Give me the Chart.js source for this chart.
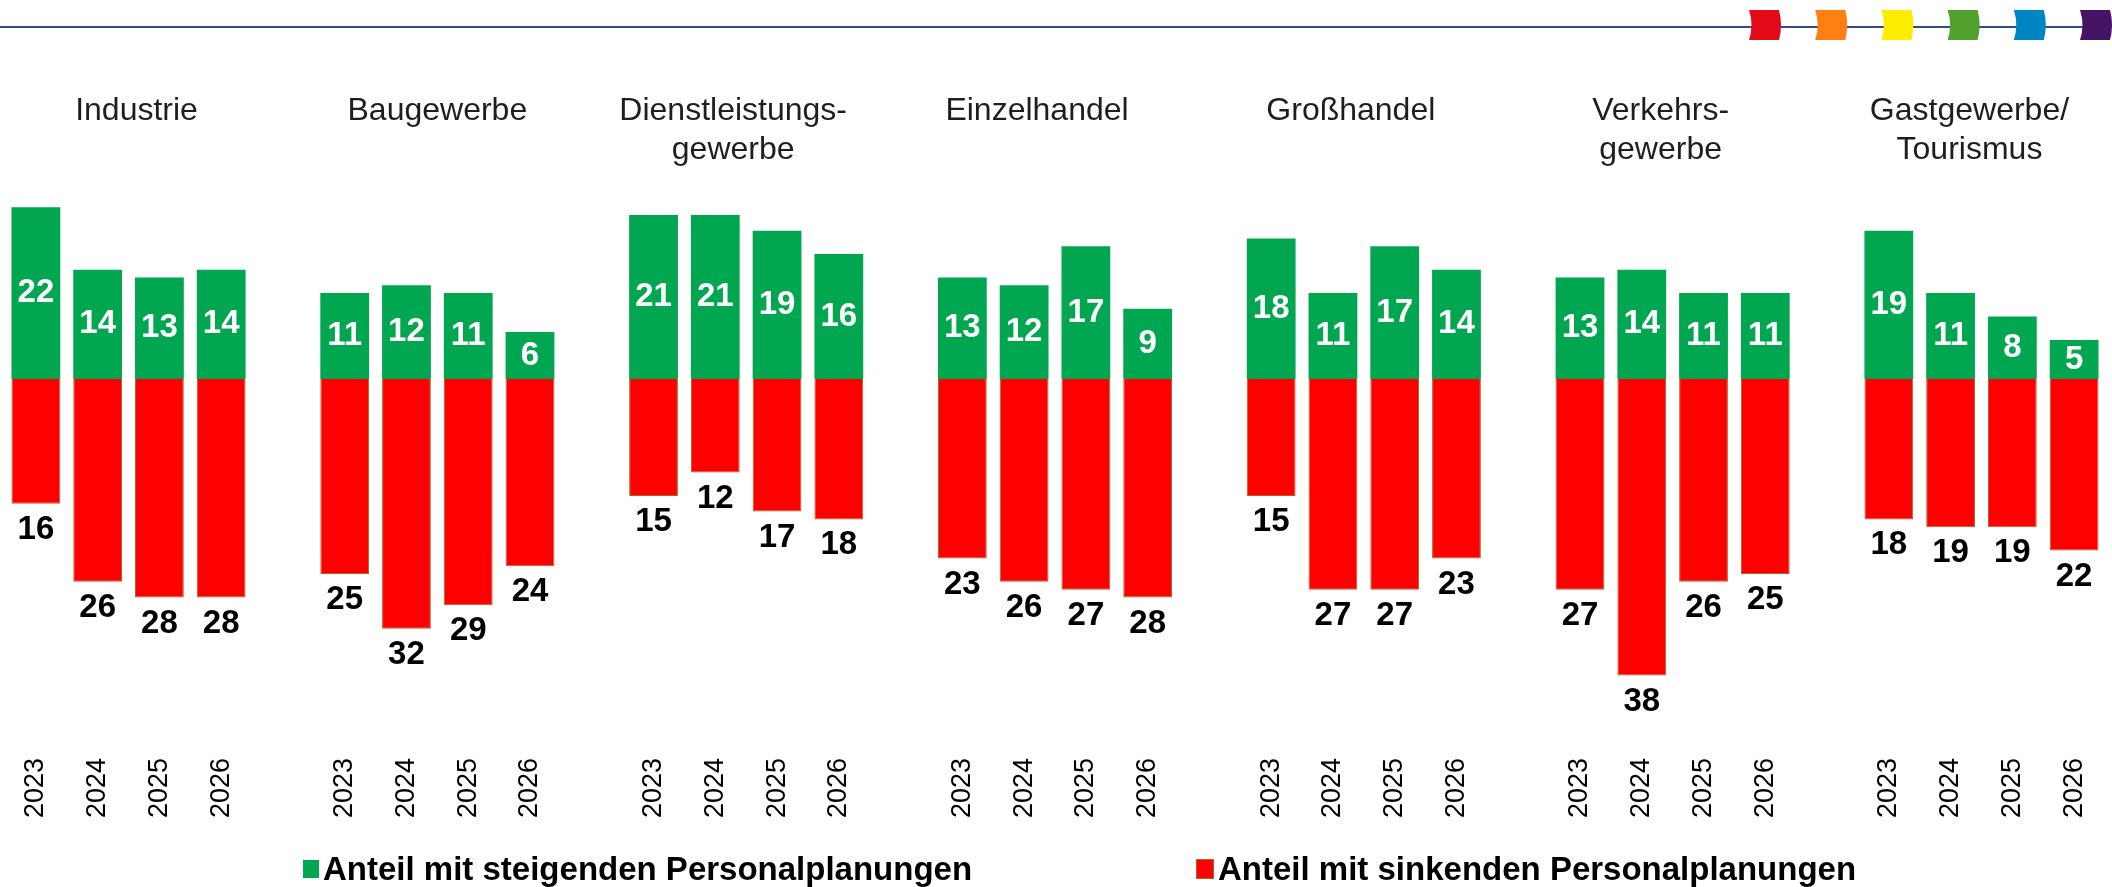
<!DOCTYPE html>
<html lang="de">
<head>
<meta charset="utf-8">
<title>Personalplanungen nach Branchen</title>
<script src="https://cdn.jsdelivr.net/npm/chart.js@4.4.1/dist/chart.umd.min.js"></script>
<style>
  html, body { margin: 0; padding: 0; background: #fff; }
  #wrap { position: relative; width: 2112px; height: 887px; overflow: hidden; }
  #chart { position: absolute; left: 0; top: 0; }
  .legend-item {
    position: absolute; top: 850px; height: 38px;
    display: flex; align-items: center;
    font: bold 33px "Liberation Sans", Arial, sans-serif; color: #000;
    white-space: nowrap;
  }
  .legend-item .box { width: 16px; height: 18px; margin-right: 4px; }
  .legend-item.rising { left: 303px; }
  .legend-item.falling { left: 1196px; }
</style>
</head>
<body>
<div id="wrap">
  <canvas id="chart" width="2112" height="887"></canvas>
</div>
<script>
// Branchen (mehrzeilige Titel als Arrays)
const sectors = [
    ['Industrie'],
    ['Baugewerbe'],
    ['Dienstleistungs-', 'gewerbe'],
    ['Einzelhandel'],
    ['Großhandel'],
    ['Verkehrs-', 'gewerbe'],
    ['Gastgewerbe/', 'Tourismus']
];
const years = ['2023', '2024', '2025', '2026'];

// Anteil mit steigenden Personalplanungen (%), je Branche 2023-2026
const rising = [
    [22, 14, 13, 14],
    [11, 12, 11, 6],
    [21, 21, 19, 16],
    [13, 12, 17, 9],
    [18, 11, 17, 14],
    [13, 14, 11, 11],
    [19, 11, 8, 5]
];

// Anteil mit sinkenden Personalplanungen (%), je Branche 2023-2026
const falling = [
    [16, 26, 28, 28],
    [25, 32, 29, 24],
    [15, 12, 17, 18],
    [23, 26, 27, 28],
    [15, 27, 27, 23],
    [27, 38, 26, 25],
    [18, 19, 19, 22]
];

const seriesNames = ['Anteil mit steigenden Personalplanungen', 'Anteil mit sinkenden Personalplanungen'];
const flagColors = ['#e30a17', '#ff7f11', '#ffed00', '#52a02e', '#0085c3', '#461464'];
// the titles in the original are not exactly centred over their bars
const titleShift = [8, 0, -13, -18, -13, -12, -12];

const FONT = '"Liberation Sans", Arial, sans-serif';

// flat category list, one empty spacer category between the sectors
const labels = [];
const risingData = [];
const fallingData = [];
const groupRanges = [];
sectors.forEach((name, g) => {
    if (g > 0) {
        labels.push('');
        risingData.push(null);
        fallingData.push(null);
    }
    const start = labels.length;
    years.forEach((year, i) => {
        labels.push(year);
        risingData.push(rising[g][i]);
        fallingData.push(-falling[g][i]);
    });
    groupRanges.push([start, labels.length - 1]);
});

// top rule with the little coloured flags, sector titles
const headerPlugin = {
    id: 'header',
    beforeDraw(chart) {
        const ctx = chart.ctx;
        ctx.save();
        ctx.strokeStyle = '#2f4b8e';
        ctx.lineWidth = 2;
        ctx.beginPath();
        ctx.moveTo(0, 27);
        ctx.lineTo(chart.width, 27);
        ctx.stroke();
        flagColors.forEach((c, i) => {
            const x = 1749 + i * 66.2;
            ctx.fillStyle = c;
            ctx.beginPath();
            ctx.moveTo(x, 10);
            ctx.lineTo(x + 30, 10);
            ctx.quadraticCurveTo(x + 34, 25, x + 30, 40);
            ctx.lineTo(x, 40);
            ctx.quadraticCurveTo(x + 5, 25, x, 10);
            ctx.closePath();
            ctx.fill();
        });
        ctx.restore();
    },
    afterDraw(chart) {
        const ctx = chart.ctx;
        const xs = chart.scales.x;
        ctx.save();
        ctx.font = '32px ' + FONT;
        ctx.fillStyle = '#1e1e1e';
        ctx.textAlign = 'center';
        ctx.textBaseline = 'middle';
        sectors.forEach((lines, g) => {
            const [a, b] = groupRanges[g];
            const cx = (xs.getPixelForValue(a) + xs.getPixelForValue(b)) / 2 + titleShift[g];
            lines.forEach((line, li) => {
                ctx.fillText(line, cx, 111 + li * 39);
            });
        });
        ctx.restore();
    }
};

// value labels: white inside the green bars, black below the red bars
const valueLabels = {
    id: 'valueLabels',
    afterDatasetsDraw(chart) {
        const ctx = chart.ctx;
        ctx.save();
        ctx.font = 'bold 33px ' + FONT;
        ctx.textAlign = 'center';
        ctx.textBaseline = 'middle';
        chart.data.datasets.forEach((ds, di) => {
            const meta = chart.getDatasetMeta(di);
            meta.data.forEach((bar, i) => {
                const v = ds.data[i];
                if (v === null || v === undefined) return;
                if (di === 0) {
                    ctx.fillStyle = '#ffffff';
                    ctx.fillText(String(v), bar.x, (bar.y + bar.base) / 2);
                } else {
                    ctx.fillStyle = '#000000';
                    ctx.fillText(String(Math.abs(v)), bar.x, bar.y + 26);
                }
            });
        });
        ctx.restore();
    }
};

const chart = new Chart(document.getElementById('chart'), {
    type: 'bar',
    data: {
        labels: labels,
        datasets: [
            {
                label: seriesNames[0],
                data: risingData,
                backgroundColor: '#00a650',
                borderWidth: 0,
                barPercentage: 0.79,
                categoryPercentage: 1.0
            },
            {
                label: seriesNames[1],
                data: fallingData,
                backgroundColor: '#ff0000',
                borderColor: '#a8642a',
                borderWidth: 1,
                barPercentage: 0.79,
                categoryPercentage: 1.0
            }
        ]
    },
    options: {
        responsive: false,
        animation: false,
        devicePixelRatio: 1,
        layout: { padding: { top: 176, bottom: 57, left: 5, right: 7 } },
        plugins: {
            legend: { display: false },
            tooltip: { enabled: false }
        },
        scales: {
            x: {
                stacked: true,
                grid: { display: false },
                border: { display: false },
                ticks: {
                    autoSkip: false,
                    minRotation: 90,
                    maxRotation: 90,
                    padding: 12,
                    color: '#000',
                    font: { family: FONT, size: 27 }
                },
                afterFit(scale) {
                    scale.paddingLeft = 0;
                    scale.paddingRight = 0;
                }
            },
            y: {
                stacked: true,
                display: false,
                min: -46,
                max: 26
            }
        }
    },
    plugins: [headerPlugin, valueLabels]
});

// legend built from the chart's datasets
const wrap = document.getElementById('wrap');
chart.data.datasets.forEach((ds, i) => {
    const item = document.createElement('div');
    item.className = 'legend-item ' + (i === 0 ? 'rising' : 'falling');
    const box = document.createElement('span');
    box.className = 'box';
    box.style.background = ds.backgroundColor;
    if (ds.borderWidth) box.style.border = '1px solid ' + ds.borderColor;
    item.appendChild(box);
    item.appendChild(document.createTextNode(ds.label));
    wrap.appendChild(item);
});
</script>
</body>
</html>
